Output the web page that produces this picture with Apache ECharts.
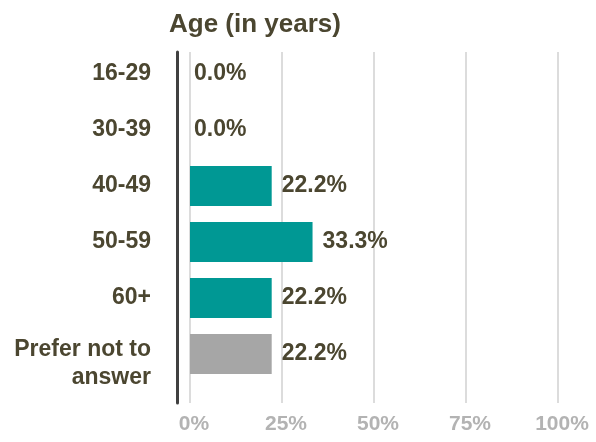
<!DOCTYPE html>
<html>
<head>
<meta charset="utf-8">
<script src="https://cdn.jsdelivr.net/npm/echarts@6/dist/echarts.min.js"></script>
<style>
  html, body { margin: 0; padding: 0; background: #fff; }
  #main { width: 596px; height: 442px; }
</style>
</head>
<body>
<div id="main"></div>
<script>
// chart data
var titleText = 'Age (in years)';
var categories = ['16-29', '30-39', '40-49', '50-59', '60+', 'Prefer not to answer'];
var shares = [0.0, 0.0, 22.2, 33.3, 22.2, 22.2];
var xTicks = [0, 25, 50, 75, 100];

var TEXT = '#4b4630';
var TEAL = '#009894';
var GREY = '#a6a6a6';
var FONT = 'Liberation Sans';

var chart = echarts.init(document.getElementById('main'));

var barData = shares.map(function (v, i) {
    return {
        value: v,
        itemStyle: { color: categories[i] === 'Prefer not to answer' ? GREY : TEAL },
        label: { distance: v === 0 ? 4 : 10 }
    };
});

function richToken(lh) {
    return { fontFamily: FONT, fontSize: 23, fontWeight: 'bold', color: TEXT, lineHeight: lh, height: lh };
}

chart.setOption({
    animation: false,
    title: {
        text: titleText,
        left: 164,
        top: 7,
        textStyle: { fontFamily: FONT, fontSize: 26, fontWeight: 'bold', color: TEXT }
    },
    grid: [
        // bars and category labels
        { left: 190, width: 368, top: 46, height: 336 },
        // gridlines, tick labels and the dark axis line
        { left: 190, width: 368, top: 52, bottom: 39 }
    ],
    xAxis: [
        {
            gridIndex: 0,
            type: 'value',
            min: xTicks[0],
            max: xTicks[xTicks.length - 1],
            show: false
        },
        {
            gridIndex: 1,
            type: 'value',
            min: xTicks[0],
            max: xTicks[xTicks.length - 1],
            interval: 25,
            axisLine: { show: false },
            axisTick: { show: false },
            splitLine: { lineStyle: { color: '#dcdcdc', width: 2 } },
            axisLabel: {
                margin: 11,
                padding: [0, 0, 0, 8],
                formatter: '{value}%',
                fontFamily: FONT,
                fontSize: 21,
                fontWeight: 'bold',
                color: '#b3b3b3'
            }
        }
    ],
    yAxis: [
        {
            gridIndex: 0,
            type: 'category',
            inverse: true,
            data: categories,
            axisLine: { show: false },
            axisTick: { show: false },
            splitLine: { show: false },
            axisLabel: {
                margin: 39,
                fontFamily: FONT,
                fontSize: 23,
                fontWeight: 'bold',
                color: TEXT,
                align: 'right',
                formatter: function (v) {
                    if (v === 'Prefer not to answer') {
                        return '{s| }\n{t|Prefer not to}\n{t|answer}';
                    }
                    return '{t|' + v + '}';
                },
                rich: {
                    s: richToken(20),
                    t: richToken(28)
                }
            }
        },
        {
            gridIndex: 1,
            type: 'value',
            offset: 13,
            axisLine: { show: true, onZero: false, lineStyle: { color: '#404040', width: 3 } },
            axisTick: { show: false },
            axisLabel: { show: false },
            splitLine: { show: false }
        }
    ],
    series: [
        {
            type: 'bar',
            xAxisIndex: 0,
            yAxisIndex: 0,
            data: barData,
            barWidth: 40,
            label: {
                show: true,
                position: 'right',
                formatter: function (p) { return p.value.toFixed(1) + '%'; },
                fontFamily: FONT,
                fontSize: 23,
                fontWeight: 'bold',
                color: TEXT
            }
        }
    ]
});
</script>
</body>
</html>
